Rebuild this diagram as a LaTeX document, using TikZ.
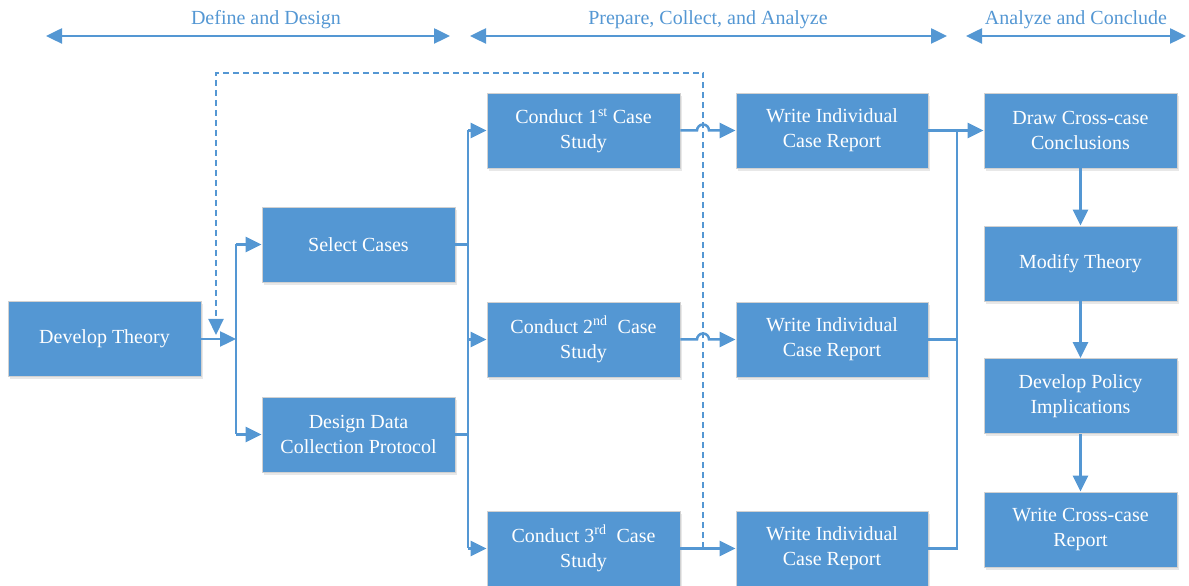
\documentclass[tikz,border=0pt]{standalone}
\usepackage{fontspec}
\setmainfont{Liberation Serif}
\usetikzlibrary{arrows.meta,shadows}
\definecolor{bblue}{RGB}{84,151,211}
\begin{document}
\begin{tikzpicture}[x=1pt,y=1pt,
  box/.style={rectangle, fill=bblue, draw=black!18, line width=0.8pt,
    minimum width=193pt, minimum height=75pt, text=white, align=center,
    font=\fontsize{20}{25}\selectfont, inner sep=0pt,
    drop shadow={opacity=0.18, shadow xshift=1.5pt, shadow yshift=-3pt}},
  conn/.style={draw=bblue, line width=2.5pt, -{Triangle[length=16pt,width=15pt]}},
  plain/.style={draw=bblue, line width=2.5pt},
  dline/.style={draw=bblue, line width=2.2pt, dash pattern=on 6pt off 4pt,
    -{Triangle[length=16pt,width=15pt]}},
  hdr/.style={draw=bblue, line width=2.5pt,
    {Triangle[length=16pt,width=15pt]}-{Triangle[length=16pt,width=15pt]}},
  lab/.style={text=bblue, font=\fontsize{20}{24}\selectfont, inner sep=0pt}]
\useasboundingbox (0,0) rectangle (1189,586);

% header
\coordinate (h1a) at (46,550); \coordinate (h1b) at (450,550);
\coordinate (h2a) at (470,550); \coordinate (h2b) at (947,550);
\coordinate (h3a) at (966,550); \coordinate (h3b) at (1186,550);
\draw[hdr] (h1a) -- (h1b);
\draw[hdr] (h2a) -- (h2b);
\draw[hdr] (h3a) -- (h3b);
\node[lab] (l1) at (266,566) {Define and Design};
\node[lab] (l2) at (708,566) {Prepare, Collect, and Analyze};
\node[lab] (l3) at (1076,566) {Analyze and Conclude};

% boxes
\node[box] (dt) at (104.5,247) {Develop Theory};
\node[box] (sc) at (358.5,341.5) {Select Cases};
\node[box] (dd) at (358.5,151.5) {Design Data\\Collection Protocol};
\node[box] (c1) at (583.5,455.5) {Conduct 1\textsuperscript{st} Case\\Study};
\node[box] (c2) at (583.5,246.5) {Conduct 2\textsuperscript{nd}\ \ Case\\Study};
\node[box] (c3) at (583.5,37.5) {Conduct 3\textsuperscript{rd}\ \ Case\\Study};
\node[box, minimum width=192pt] (w1) at (832,455.5) {Write Individual\\Case Report};
\node[box, minimum width=192pt] (w2) at (832,246.5) {Write Individual\\Case Report};
\node[box, minimum width=192pt] (w3) at (832,37.5) {Write Individual\\Case Report};
\node[box] (r1) at (1080.5,455.5) {Draw Cross-case\\Conclusions};
\node[box] (r2) at (1080.5,322.5) {Modify Theory};
\node[box] (r3) at (1080.5,190) {Develop Policy\\Implications};
\node[box] (r4) at (1080.5,56.5) {Write Cross-case\\Report};

% trunk coordinates
\coordinate (t1) at (236,247);
\coordinate (t2) at (468,0);
\coordinate (t3) at (957,0);
\coordinate (hop) at (703,0);
\coordinate (dtop) at (703,513);
\coordinate (dleft) at (216,513);
\coordinate (dend) at (216,251);

% dashed feedback
\draw[dline] (hop |- c3.east) -- (dtop) -- (dleft) -- (dend);

% develop theory to select / design
\draw[conn] (dt.east) -- (t1);
\draw[plain] (t1 |- sc.west) -- (t1 |- dd.west);
\draw[conn] (t1 |- sc.west) -- (sc.west);
\draw[conn] (t1 |- dd.west) -- (dd.west);

% select / design to conduct
\draw[plain] (sc.east) -- (t2 |- sc.east);
\draw[plain] (dd.east) -- (t2 |- dd.east);
\draw[plain] (t2 |- c1.west) -- (t2 |- c3.west);
\draw[conn] (t2 |- c1.west) -- (c1.west);
\draw[conn] (t2 |- c2.west) -- (c2.west);
\draw[conn] (t2 |- c3.west) -- (c3.west);

% conduct to write (with hops)
\draw[conn] (c1.east) -- ([xshift=-6pt]hop |- c1.east) arc[start angle=180,end angle=0,radius=6pt] -- (w1.west);
\draw[conn] (c2.east) -- ([xshift=-6pt]hop |- c2.east) arc[start angle=180,end angle=0,radius=6pt] -- (w2.west);
\draw[conn] (c3.east) -- (w3.west);

% write to cross-case
\draw[conn] (w1.east) -- (r1.west);
\draw[plain] (w2.east) -- (t3 |- w2.east);
\draw[plain] (t3 |- w1.east) -- (t3 |- w3.east) -- (w3.east);

% right column
\draw[conn] (r1.south) -- (r2.north);
\draw[conn] (r2.south) -- (r3.north);
\draw[conn] (r3.south) -- (r4.north);
\end{tikzpicture}
\end{document}
